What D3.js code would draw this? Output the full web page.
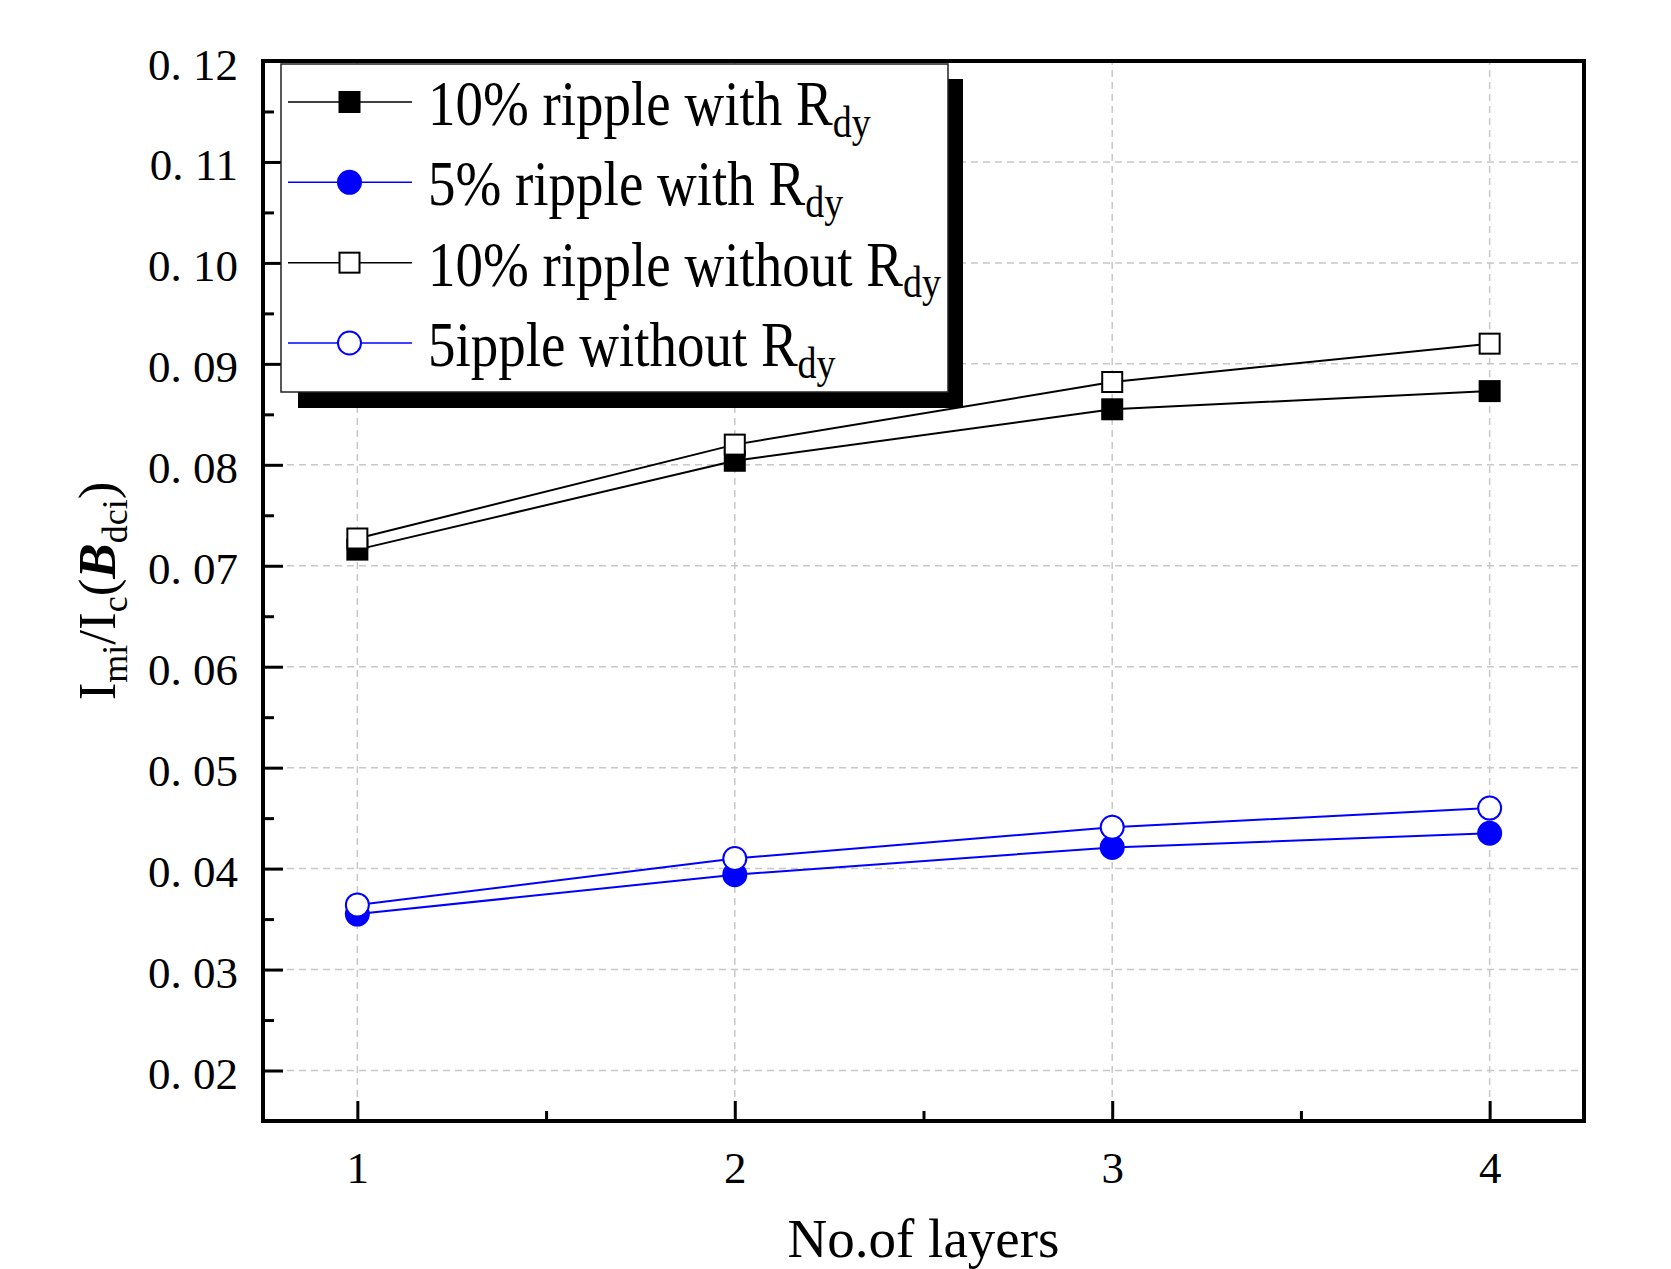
<!DOCTYPE html>
<html>
<head>
<meta charset="utf-8">
<script src="https://cdn.jsdelivr.net/npm/d3@7"></script>
<style>
  body { margin: 0; background: #fff; }
  svg { display: block; }
  text { font-family: "Liberation Serif", "Times New Roman", serif; fill: #000; }
</style>
</head>
<body>
<div id="chart"></div>
<script>
// data
var layers = [1, 2, 3, 4];
var rip10With = [0.0716, 0.0804, 0.0855, 0.0873];
var rip5With = [0.0355, 0.0394, 0.0421, 0.0435];
var rip10Without = [0.0727, 0.0820, 0.0882, 0.0920];
var rip5Without = [0.0364, 0.0410, 0.0441, 0.0460];

var yMajor = [0.02, 0.03, 0.04, 0.05, 0.06, 0.07, 0.08, 0.09, 0.10, 0.11, 0.12];
var yMinor = [0.025, 0.035, 0.045, 0.055, 0.065, 0.075, 0.085, 0.095, 0.105, 0.115];
var xMinor = [1.5, 2.5, 3.5];

var legendNames = ["10% ripple with R", "5% ripple with R", "10% ripple without R", "5ipple without R"];

var W = 1671, H = 1269,
	pL = 263, pR = 1584, pT = 61, pB = 1121;

var svg = d3.select("#chart").append("svg")
	.attr("width", W).attr("height", H);

svg.append("rect").attr("width", W).attr("height", H).attr("fill", "#fff");

var x = d3.scaleLinear().domain([0.75, 4.25]).range([pL, pR]);
var y = d3.scaleLinear().domain([0.015, 0.12]).range([pB, pT]);

// grid
var grid = svg.append("g").attr("stroke", "#c8c8c8").attr("stroke-width", 1.5)
	.attr("stroke-dasharray", "7,5");
grid.selectAll(".gx").data(layers).enter().append("line")
	.attr("x1", d => x(d)).attr("x2", d => x(d))
	.attr("y1", pB).attr("y2", pT);
grid.selectAll(".gy").data(yMajor.slice(0, -1)).enter().append("line")
	.attr("x1", pL).attr("x2", pR)
	.attr("y1", d => y(d)).attr("y2", d => y(d));

// series
var series = [
	{ vals: rip10With, color: "#000", shape: "square", fill: "#000" },
	{ vals: rip5With, color: "#0000ff", shape: "circle", fill: "#0000ff" },
	{ vals: rip10Without, color: "#000", shape: "square", fill: "#fff" },
	{ vals: rip5Without, color: "#0000ff", shape: "circle", fill: "#fff" }
];

var line = d3.line().x(d => x(d[0])).y(d => y(d[1]));

function marker(g, s, cx, cy) {
	if (s.shape == "square") {
		g.append("rect")
			.attr("x", cx - 10).attr("y", cy - 10)
			.attr("width", 20).attr("height", 20)
			.attr("fill", s.fill).attr("stroke", s.color).attr("stroke-width", 2);
	} else {
		g.append("circle")
			.attr("cx", cx).attr("cy", cy).attr("r", 11.5)
			.attr("fill", s.fill).attr("stroke", s.color).attr("stroke-width", 2);
	}
}

series.forEach(function(s) {
	var pts = layers.map((l, i) => [l, s.vals[i]]);
	var g = svg.append("g");
	g.append("path").attr("d", line(pts))
		.attr("fill", "none").attr("stroke", s.color).attr("stroke-width", 2);
	pts.forEach(p => marker(g, s, x(p[0]), y(p[1])));
});

// axes, ticks point inwards
var yAxis = svg.append("g").attr("transform", "translate(" + pL + ",0)")
	.call(d3.axisLeft(y).tickValues(yMajor).tickSize(-20).tickPadding(25)
		.tickFormat(d => d.toFixed(2).replace(".", ". ")));
yAxis.select(".domain").remove();
yAxis.selectAll("line").attr("stroke-width", 3);
yAxis.selectAll("text").attr("font-size", 45).attr("dy", "0.4em")
	.style("font-family", "'Liberation Serif', serif");

var yAxisMinor = svg.append("g").attr("transform", "translate(" + pL + ",0)")
	.call(d3.axisLeft(y).tickValues(yMinor).tickSize(-11).tickFormat(""));
yAxisMinor.select(".domain").remove();
yAxisMinor.selectAll("line").attr("stroke-width", 3);

var xAxis = svg.append("g").attr("transform", "translate(0," + pB + ")")
	.call(d3.axisBottom(x).tickValues(layers).tickSize(-20).tickPadding(30).tickFormat(d3.format("d")));
xAxis.select(".domain").remove();
xAxis.selectAll("line").attr("stroke-width", 3);
xAxis.selectAll("text").attr("font-size", 45)
	.style("font-family", "'Liberation Serif', serif");

var xAxisMinor = svg.append("g").attr("transform", "translate(0," + pB + ")")
	.call(d3.axisBottom(x).tickValues(xMinor).tickSize(-10).tickFormat(""));
xAxisMinor.select(".domain").remove();
xAxisMinor.selectAll("line").attr("stroke-width", 3);

// frame
svg.append("rect")
	.attr("x", pL).attr("y", pT)
	.attr("width", pR - pL).attr("height", pB - pT)
	.attr("fill", "none").attr("stroke", "#000").attr("stroke-width", 4);

// axis titles
svg.append("text")
	.attr("x", (pL + pR) / 2).attr("y", 1257)
	.attr("text-anchor", "middle").attr("font-size", 55)
	.text("No.of layers");

var yt = svg.append("text")
	.attr("transform", "translate(115," + ((pT + pB) / 2) + ") rotate(-90)")
	.attr("text-anchor", "middle").attr("font-size", 53);
yt.append("tspan").text("I");
yt.append("tspan").attr("font-size", 36).attr("dy", 12).text("mi");
yt.append("tspan").attr("dy", -12).text("/I");
yt.append("tspan").attr("font-size", 36).attr("dy", 12).text("c");
yt.append("tspan").attr("dy", -12).text("(");
yt.append("tspan").attr("font-style", "italic").attr("font-weight", "bold").text("B");
yt.append("tspan").attr("font-size", 36).attr("dy", 12).text("dci");
yt.append("tspan").attr("dy", -12).text(")");

// legend with drop shadow
var lg = svg.append("g");
lg.append("rect").attr("x", 298).attr("y", 79).attr("width", 665).attr("height", 329)
	.attr("fill", "#000");
lg.append("rect").attr("x", 281).attr("y", 64).attr("width", 667).attr("height", 328)
	.attr("fill", "#fff").attr("stroke", "#222").attr("stroke-width", 1.5);

var rowY = d3.scaleLinear().domain([0, 3]).range([102, 343]);
series.forEach(function(s, i) {
	var ry = rowY(i);
	lg.append("line").attr("x1", 288).attr("x2", 412).attr("y1", ry).attr("y2", ry)
		.attr("stroke", s.color).attr("stroke-width", 1.5);
	marker(lg, s, 349.5, ry);
	var t = lg.append("text")
		.attr("transform", "translate(428," + (ry + 23) + ") scale(1,1.15)")
		.attr("font-size", 55);
	t.append("tspan").text(legendNames[i]);
	t.append("tspan").attr("font-size", 38).attr("dy", 10).text("dy");
});
</script>
</body>
</html>
